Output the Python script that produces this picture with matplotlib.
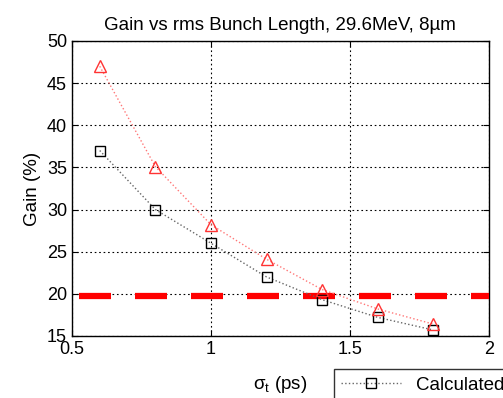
import matplotlib
matplotlib.use("Agg")
import matplotlib.pyplot as plt

sigma_t = [0.6, 0.8, 1.0, 1.2, 1.4, 1.6, 1.8]
calculated = [37.0, 30.0, 26.0, 22.0, 19.3, 17.2, 15.7]
measured = [47.0, 35.1, 28.2, 24.1, 20.5, 18.2, 16.4]
threshold = 19.7
xticks = [0.5, 1, 1.5, 2]
yticks = [15, 20, 25, 30, 35, 40, 45, 50]

plt.rcParams['font.family'] = ['Liberation Sans', 'DejaVu Sans']

fig = plt.figure(figsize=(5.03, 3.98), dpi=100)
ax = fig.add_axes([0.143, 0.156, 0.829, 0.741])

ax.axhline(threshold, color='#ff0000', lw=4.5, ls=(7.84, (5.12, 3.84)), zorder=3)
ax.plot(sigma_t, calculated, ls=':', color='#666666', lw=1.0, marker='s', ms=7,
        mfc='none', mec='black', mew=1.0, label='Calculated', zorder=4)
ax.plot(sigma_t, measured, ls=':', color='#ff7777', lw=1.0, marker='^', ms=9,
        mfc='none', mec='#ff3333', mew=1.0, zorder=4)

ax.set_xlim(0.5, 2)
ax.set_ylim(15, 50)
ax.set_xticks(xticks)
ax.set_xticklabels(['0.5', '1', '1.5', '2'])
ax.set_yticks(yticks)
ax.grid(True, color='black', ls=(0, (1.5, 2.5)), lw=0.8)
ax.tick_params(direction='in', top=True, right=True, labelsize=13, length=4)
for s in ax.spines.values():
    s.set_linewidth(1.0)

ax.set_title('Gain vs rms Bunch Length, 29.6MeV, 8\u00b5m', fontsize=13.5, pad=8)
ax.set_ylabel('Gain (%)', fontsize=13.5)
ax.set_xlabel(r'$\mathregular{\sigma_t}$ (ps)', fontsize=13.5, labelpad=12)

leg = fig.legend(handles=[ax.lines[1]], loc='upper left',
                 bbox_to_anchor=(0.664, 0.073), bbox_transform=fig.transFigure,
                 fontsize=13.5, frameon=True, fancybox=False, edgecolor='black',
                 borderaxespad=0, handlelength=3.2)
leg.get_frame().set_linewidth(1.0)

fig.savefig('out.png', dpi=100)
